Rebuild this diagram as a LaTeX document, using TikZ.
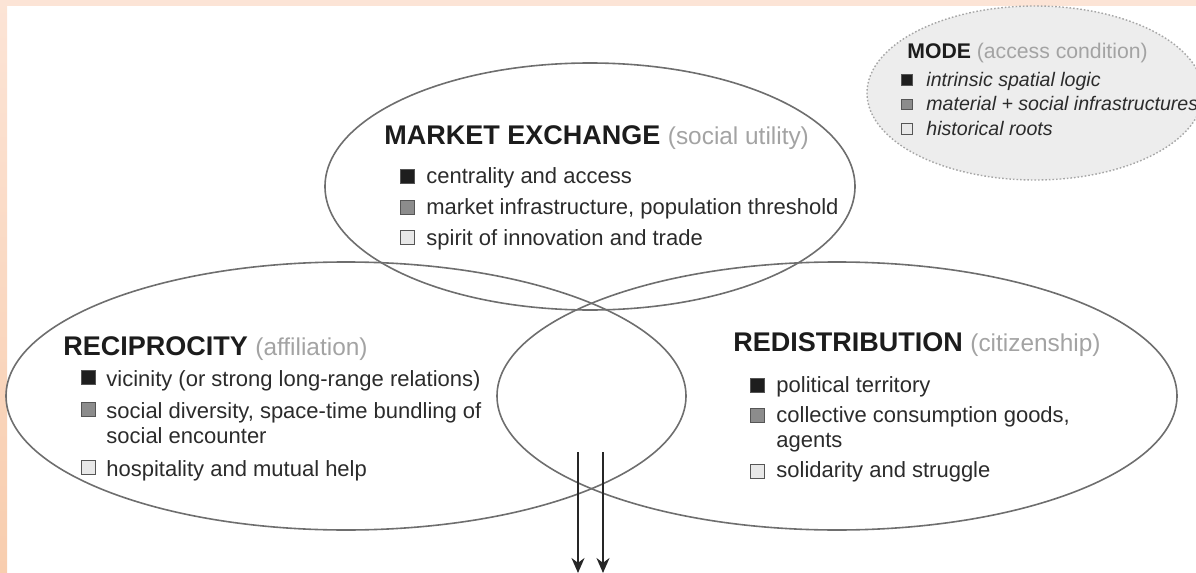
\documentclass[tikz,border=0pt]{standalone}
\usepackage{fontspec}
\usepackage{xcolor}
\usepackage{tikz}
\usetikzlibrary{arrows.meta,shapes.geometric}
\setmainfont{Liberation Sans}

\definecolor{ringgray}{HTML}{6E6E6E}
\definecolor{headblack}{HTML}{1C1C1C}
\definecolor{subgray}{HTML}{A3A3A3}
\definecolor{itemblack}{HTML}{2B2B2B}
\definecolor{sqdark}{HTML}{1E1E1E}
\definecolor{sqmid}{HTML}{8C8C8C}
\definecolor{sqlight}{HTML}{E8E8E8}
\definecolor{sqframe}{HTML}{555555}
\definecolor{modefill}{HTML}{EDEDED}
\definecolor{peachtop}{HTML}{FCE4D6}
\definecolor{peachlow}{HTML}{F8CDAE}

\newcommand{\subtag}[1]{\textcolor{subgray}{\mdseries\fontsize{12.2}{14}\selectfont #1}}

\begin{document}
\begin{tikzpicture}[x=0.5pt, y=-0.5pt, >={Stealth[length=7.5pt, width=6.5pt]},
    ring/.style={ellipse, draw=ringgray, line width=0.8pt, inner sep=0pt},
    head/.style={anchor=base west, inner sep=0pt, text=headblack, font=\fontsize{13.5}{16}\selectfont\bfseries},
    item/.style={anchor=base west, inner sep=0pt, text=itemblack, font=\fontsize{11}{13}\selectfont},
    sq/.style={draw=sqframe, line width=0.5pt, minimum size=7pt, inner sep=0pt},
    modehead/.style={anchor=base west, inner sep=0pt, text=headblack, font=\fontsize{10.6}{12}\selectfont\bfseries},
    modeitem/.style={anchor=base west, inner sep=0pt, text=itemblack, font=\fontsize{9.8}{12}\selectfont\itshape},
    modesq/.style={draw=sqframe, line width=0.5pt, minimum size=5.2pt, inner sep=0pt}]
    \useasboundingbox (0,0) rectangle (1196,573);
    % page edge
    \fill[peachtop] (0,0) rectangle (1196,6);
    \shade[top color=peachtop, bottom color=peachlow] (0,0) rectangle (7,573);
    % rings
    \node [ring, fill=modefill, draw=gray!70, densely dotted, line width=0.7pt, minimum width=168pt, minimum height=87pt] (mode) at (1035,93) {};
    \node [ring, minimum width=265pt, minimum height=123.5pt] (market) at (590,186.5) {};
    \node [ring, minimum width=340pt, minimum height=134pt] (recip) at (346,396) {};
    \node [ring, minimum width=340pt, minimum height=134pt] (redist) at (837,396) {};
    % MODE
    \node [modehead] (modetitle) at (907,58) {MODE \textcolor{subgray}{\mdseries (access condition)}};
    \node [modesq, fill=sqdark] (mo1sq) at (907,80) {};
    \node [modesq, fill=sqmid] (mo2sq) at (907,104.5) {};
    \node [modesq, fill=sqlight] (mo3sq) at (907,129) {};
    \node [modeitem] (mo1) at (926,86) {intrinsic spatial logic};
    \node [modeitem] (mo2) at (926,111) {material + social infrastructures};
    \node [modeitem] (mo3) at (926,135) {historical roots};
    % market exchange
    \node [head] (mktitle) at (384,144) {MARKET EXCHANGE \subtag{(social utility)}};
    \node [sq, fill=sqdark] (mk1sq) at (407.5,176.5) {};
    \node [sq, fill=sqmid] (mk2sq) at (407.5,207.5) {};
    \node [sq, fill=sqlight] (mk3sq) at (407.5,237.5) {};
    \node [item] (mk1) at (426,183) {centrality and access};
    \node [item] (mk2) at (426,214) {market infrastructure, population threshold};
    \node [item] (mk3) at (426,245) {spirit of innovation and trade};
    % reciprocity
    \node [head] (rctitle) at (63,355) {RECIPROCITY \subtag{(affiliation)}};
    \node [sq, fill=sqdark] (rc1sq) at (88,377.5) {};
    \node [sq, fill=sqmid] (rc2sq) at (88,409.5) {};
    \node [sq, fill=sqlight] (rc3sq) at (88,467.5) {};
    \node [item] (rc1) at (106,386) {vicinity (or strong long-range relations)};
    \node [item] (rc2) at (106,418) {social diversity, space-time bundling of};
    \node [item] (rc2b) at (106,443) {social encounter};
    \node [item] (rc3) at (106,476) {hospitality and mutual help};
    % redistribution
    \node [head] (rdtitle) at (733,351) {REDISTRIBUTION \subtag{(citizenship)}};
    \node [sq, fill=sqdark] (rd1sq) at (757.5,385) {};
    \node [sq, fill=sqmid] (rd2sq) at (757.5,415.5) {};
    \node [sq, fill=sqlight] (rd3sq) at (757.5,471.5) {};
    \node [item] (rd1) at (776,392) {political territory};
    \node [item] (rd2) at (776,422) {collective consumption goods,};
    \node [item] (rd2b) at (776,447) {agents};
    \node [item] (rd3) at (776,477) {solidarity and struggle};
    % outflow
    \coordinate (out1s) at (578,452);
    \coordinate (out1e) at (578,573);
    \coordinate (out2s) at (603,452);
    \coordinate (out2e) at (603,573);
    \draw [->, line width=1pt, black!85] (out1s) -- (out1e);
    \draw [->, line width=1pt, black!85] (out2s) -- (out2e);
\end{tikzpicture}
\end{document}
